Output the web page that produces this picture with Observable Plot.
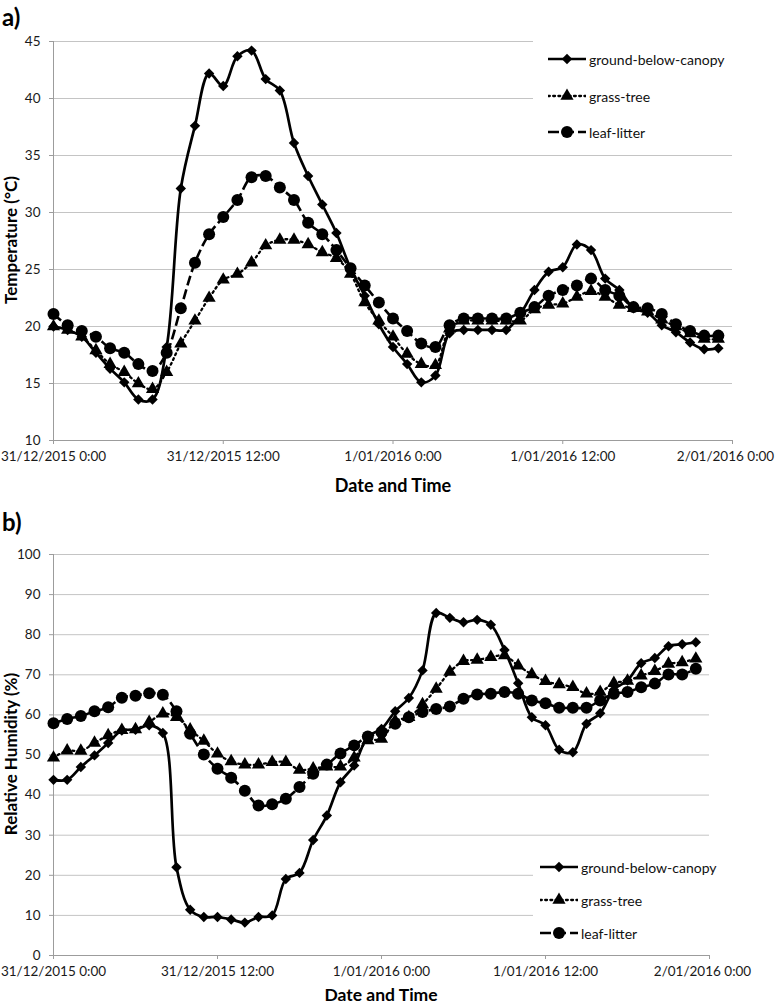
<!DOCTYPE html>
<html><head><meta charset="utf-8">
<script src="https://cdn.jsdelivr.net/npm/d3@7"></script>
<script src="https://cdn.jsdelivr.net/npm/@observablehq/plot@0.6"></script>
<style>
body{margin:0;background:#fff;font-family:Lato,"Open Sans",sans-serif;}
#wrap{position:relative;width:778px;height:1008px;overflow:hidden;background:#fff;}
.panel{position:absolute;left:0;}
.lab{position:absolute;font-weight:bold;color:#000;white-space:nowrap;line-height:1;}
.ytitle{transform:translate(-50%,-50%) rotate(-90deg);}
.xtitle{transform:translate(-50%,-50%);}
.legend{position:absolute;background:#fff;}
.lrow{position:absolute;left:0;display:flex;align-items:center;height:20px;font-size:14px;color:#111;}
.lrow svg{margin-right:3px;}
</style>
</head><body>
<div id="wrap"></div>
<script>
// ---- data ----
const seriesNames = ["ground-below-canopy", "grass-tree", "leaf-litter"];
const xTickHours = [0, 12, 24, 36, 48];
const xTickLabels = ["31/12/2015 0:00", "31/12/2015 12:00", "1/01/2016 0:00", "1/01/2016 12:00", "2/01/2016 0:00"];
const tempTicks = [10, 15, 20, 25, 30, 35, 40, 45];
const rhTicks = [0, 10, 20, 30, 40, 50, 60, 70, 80, 90, 100];

const groundTemp = [20.0, 19.7, 19.1, 17.7, 16.3, 15.1, 13.6, 13.6, 18.2, 32.1,
  37.6, 42.2, 41.1, 43.7, 44.2, 41.7, 40.7, 36.1, 33.2, 30.7,
  28.2, 25.1, 22.7, 20.2, 18.2, 16.7, 15.1, 15.7, 19.4, 19.7,
  19.7, 19.7, 19.7, 21.1, 23.2, 24.8, 25.2, 27.2, 26.7, 24.2,
  23.2, 21.6, 21.2, 20.1, 19.5, 18.6, 18.0, 18.1];
const grassTemp = [20.0, 19.7, 19.1, 17.9, 16.7, 16.0, 15.0, 14.5, 16.0, 18.5,
  20.5, 22.5, 24.1, 24.6, 25.6, 27.1, 27.6, 27.6, 27.2, 26.5,
  26.0, 24.6, 22.1, 20.5, 19.1, 17.6, 16.7, 16.6, 19.8, 20.5,
  20.5, 20.5, 20.5, 20.5, 21.5, 21.9, 22.0, 22.6, 23.1, 22.6,
  21.9, 21.6, 21.3, 20.6, 20.0, 19.4, 18.9, 18.9];
const leafTemp = [21.1, 20.1, 19.6, 19.1, 18.1, 17.7, 16.7, 16.1, 17.7, 21.6,
  25.6, 28.1, 29.6, 31.1, 33.1, 33.2, 32.2, 31.1, 29.1, 28.1,
  26.7, 25.1, 23.6, 22.1, 20.7, 19.6, 18.5, 18.2, 20.1, 20.7,
  20.7, 20.7, 20.7, 21.2, 21.7, 22.7, 23.2, 23.6, 24.2, 23.2,
  22.7, 21.7, 21.6, 21.1, 20.2, 19.6, 19.2, 19.2];

const groundRH = [43.8, 43.8, 47.0, 49.9, 53.0, 56.1, 56.3, 57.4, 55.5, 22.0,
  11.4, 9.6, 9.6, 9.0, 8.2, 9.6, 10.0, 19.1, 20.6, 28.8,
  34.9, 43.2, 47.4, 54.6, 56.5, 60.9, 64.2, 71.1, 85.4, 84.2,
  83.1, 83.7, 82.5, 76.2, 67.9, 59.4, 57.4, 51.3, 50.7, 57.8,
  60.4, 66.3, 68.6, 72.9, 74.2, 77.1, 77.6, 78.1];
const grassRH = [49.3, 51.1, 51.0, 53.0, 54.9, 56.2, 56.4, 58.2, 60.3, 59.4,
  56.3, 53.5, 50.3, 48.4, 47.6, 47.6, 48.2, 48.2, 46.3, 46.6,
  47.1, 47.1, 49.3, 53.6, 54.0, 58.5, 59.4, 62.6, 66.5, 70.7,
  73.4, 73.7, 74.4, 74.8, 72.3, 70.1, 68.4, 67.6, 66.9, 65.3,
  65.7, 67.9, 68.5, 69.8, 70.9, 72.7, 73.1, 74.0];
const leafRH = [57.9, 59.0, 59.7, 60.9, 61.9, 64.3, 64.8, 65.4, 65.0, 60.9,
  55.3, 50.1, 46.6, 44.3, 41.1, 37.4, 37.7, 39.1, 42.0, 45.3,
  47.6, 50.4, 52.4, 54.6, 55.7, 57.8, 59.4, 60.7, 61.5, 62.1,
  64.0, 65.1, 65.3, 65.7, 65.3, 63.6, 62.9, 61.8, 61.8, 61.8,
  63.6, 65.3, 65.7, 66.9, 67.8, 70.1, 70.1, 71.5];

// ---- styles ----
const seriesStyle = [
  {symbol: "diamond2", r: 4.7, dash: null, width: 2.7, d3sym: d3.symbolDiamond2},
  {symbol: "triangle", r: 4.9, dash: "1.8,3.4", width: 2.3, d3sym: d3.symbolTriangle},
  {symbol: "circle", r: 6.0, dash: "10,4", width: 2.6, d3sym: d3.symbolCircle}
];

const wrap = document.getElementById("wrap");
const lastHour = xTickHours[xTickHours.length - 1];
const fmtX = d => xTickLabels[xTickHours.indexOf(d)];

function panel(cfg) {
  const marks = [
    Plot.ruleY(cfg.yTicks, {stroke: "#c4c4c4", strokeWidth: 1}),
    Plot.ruleX([0], {stroke: "#9c9c9c", strokeWidth: 1}),
    Plot.ruleY([cfg.yDomain[0]], {stroke: "#9c9c9c", strokeWidth: 1}),
    Plot.axisY({ticks: cfg.yTicks, tickSize: 4, tickPadding: 9, stroke: "#9c9c9c", label: null, fontSize: 13.5}),
    Plot.axisX({ticks: xTickHours, tickFormat: d => d === lastHour ? "" : fmtX(d), tickSize: 4, tickPadding: 7, stroke: "#9c9c9c", label: null, fontSize: 13.5}),
    Plot.axisX({ticks: [lastHour], tickFormat: fmtX, tickSize: 0, tickPadding: 11, label: null, fontSize: 13.5, dx: -7})
  ];
  cfg.series.forEach((vals, si) => {
    const st = seriesStyle[si];
    const data = vals.map((v, h) => ({h, v, s: seriesNames[si]}));
    marks.push(Plot.line(data, {x: "h", y: "v", curve: "catmull-rom", stroke: "#000", strokeWidth: st.width, strokeDasharray: st.dash, strokeLinecap: si === 1 ? "round" : "butt"}));
    marks.push(Plot.dot(data, {x: "h", y: "v", symbol: st.symbol, r: st.r, fill: "#000", stroke: "none"}));
  });
  const svg = Plot.plot({
    width: 778, height: cfg.height,
    marginTop: cfg.mt, marginBottom: cfg.mb, marginLeft: 53, marginRight: cfg.mr,
    x: {domain: [0, 48]},
    y: {domain: cfg.yDomain},
    style: {fontFamily: "Lato, 'Open Sans', sans-serif", fontSize: "13.5px", color: "#1a1a1a", background: "transparent", overflow: "visible"},
    marks
  });
  const div = document.createElement("div");
  div.className = "panel";
  div.style.top = cfg.top + "px";
  div.appendChild(svg);
  wrap.appendChild(div);
}

function label(text, x, y, size, cls) {
  const d = document.createElement("div");
  d.className = "lab " + (cls || "");
  d.style.left = x + "px"; d.style.top = y + "px"; d.style.fontSize = size + "px";
  d.textContent = text;
  wrap.appendChild(d);
}

function legend(left, top, w, h, rowYs, sampleX) {
  const box = document.createElement("div");
  box.className = "legend";
  Object.assign(box.style, {left: left + "px", top: top + "px", width: w + "px", height: h + "px"});
  seriesNames.forEach((name, si) => {
    const st = seriesStyle[si];
    const row = document.createElement("div");
    row.className = "lrow";
    row.style.top = (rowYs[si] - 10) + "px";
    row.style.left = sampleX + "px";
    const ns = "http://www.w3.org/2000/svg";
    const s = document.createElementNS(ns, "svg");
    s.setAttribute("width", 38); s.setAttribute("height", 20);
    const ln = document.createElementNS(ns, "line");
    ln.setAttribute("x1", 0); ln.setAttribute("x2", 38); ln.setAttribute("y1", 10); ln.setAttribute("y2", 10);
    ln.setAttribute("stroke", "#000"); ln.setAttribute("stroke-width", st.width);
    if (st.dash) ln.setAttribute("stroke-dasharray", si === 1 ? "1.8,3.4" : "11,4");
    if (si === 1) ln.setAttribute("stroke-linecap", "round");
    s.appendChild(ln);
    const p = document.createElementNS(ns, "path");
    p.setAttribute("d", d3.symbol(st.d3sym, Math.PI * st.r * st.r)());
    p.setAttribute("transform", "translate(19,10)");
    p.setAttribute("fill", "#000");
    s.appendChild(p);
    row.appendChild(s);
    const t = document.createElement("span");
    t.textContent = name;
    row.appendChild(t);
    box.appendChild(row);
  });
  wrap.appendChild(box);
}

// Panel a
panel({top: 0, height: 500, mt: 41, mb: 60, mr: 46, yDomain: [10, 45], yTicks: tempTicks, series: [groundTemp, grassTemp, leafTemp]});
// Panel b
panel({top: 500, height: 508, mt: 54, mb: 53, mr: 69, yDomain: [0, 100], yTicks: rhTicks, series: [groundRH, grassRH, leafRH]});

legend(533, 37, 215, 113, [22, 59, 95], 15);
legend(533, 838, 215, 112, [29, 62, 95], 7);

label("a)", 2, 5, 24);
label("b)", 2, 510, 24);
label("Temperature (°C)", 10, 240, 17, "ytitle");
label("Relative Humidity (%)", 10, 754, 17, "ytitle");
label("Date and Time", 393, 485, 18, "xtitle");
label("Date and Time", 381, 995, 17.5, "xtitle");
</script>
</body></html>
